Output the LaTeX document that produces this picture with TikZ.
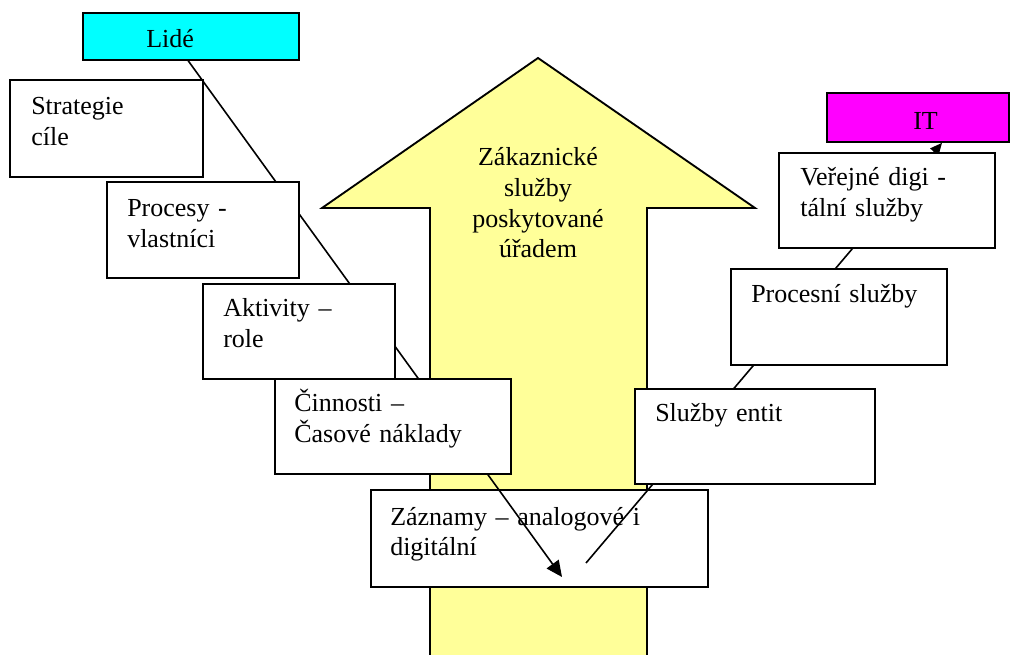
\documentclass[tikz,border=0pt]{standalone}
\usepackage{fontspec}
\setmainfont{Liberation Serif}
\usetikzlibrary{arrows.meta}
\definecolor{arrowyellow}{RGB}{255,255,153}
\definecolor{peoplecyan}{RGB}{0,255,255}
\definecolor{itmagenta}{RGB}{255,0,255}

\begin{document}
\begin{tikzpicture}[x=0.75pt,y=-0.75pt,
  wh/.style 2 args={minimum width=#1*0.75pt, minimum height=#2*0.75pt},
  box/.style={draw=black, line width=1.4pt, fill=white, anchor=north west, inner sep=0pt},
  txt/.style={anchor=base west, inner sep=0pt, text width=#1, align=left,
    font=\fontsize{19.5pt}{23pt}\selectfont},
  txt/.default=190pt,
  conn/.style={draw=black, line width=1.2pt},
  bigarrow/.style={fill=arrowyellow, draw=black, line width=1.4pt, line join=miter}
]
\useasboundingbox (0,0) rectangle (1010,655);

% central upward arrow
\path[bigarrow] (430,665) -- (430,208) -- (322,208) -- (538,58) -- (755,208)
  -- (647,208) -- (647,665);
\node[anchor=base, inner sep=0pt, text width=150pt, align=center,
  font=\fontsize{19.5pt}{23pt}\selectfont] (customer) at (538,166)
  {Zákaznické\\služby\\poskytované\\úřadem};

% bottom box, below the connectors
\node[box, wh={337}{97}] (zazn) at (370,489) {};
\node[txt=260pt] (zaznT) at ([shift={(20,36)}]zazn.north west) {Záznamy – analogové i\\digitální};

% connectors
\coordinate (lidetip) at (562,577);
\coordinate (itfoot) at (586,563);

\node[box, wh={216}{47}, fill=peoplecyan] (lide) at (82,12) {};
\node[box, wh={182}{49}, fill=itmagenta] (it) at (826,92) {};

\draw[conn, -{Triangle[length=12pt,width=11pt]}] ([xshift=-2pt]lide.south) -- (lidetip);
\draw[conn, -{Triangle[length=9pt,width=8pt]}] (itfoot) -- ([xshift=87pt]it.south west);

% left column: people side
\node[box, wh={193}{97}] (strat) at (9,79) {};
\node[txt] (stratT) at ([shift={(22,36)}]strat.north west) {Strategie\\cíle};

\node[box, wh={192}{96}] (proc) at (106,181) {};
\node[txt] (procT) at ([shift={(21,36)}]proc.north west) {Procesy -\\vlastníci};

\node[box, wh={192}{95}] (akt) at (202,283) {};
\node[txt] (aktT) at ([shift={(21,34)}]akt.north west) {Aktivity –\\role};

\node[box, wh={236}{95}] (cinn) at (274,378) {};
\node[txt] (cinnT) at ([shift={(20,34)}]cinn.north west) {Činnosti –\\Časové náklady};

% right column: IT side
\node[box, wh={216}{95}] (verej) at (778,152) {};
\node[txt] (verejT) at ([shift={(22,34)}]verej.north west) {Veřejné digi -\\tální služby};

\node[box, wh={216}{96}] (procs) at (730,268) {};
\node[txt] (procsT) at ([shift={(21,35)}]procs.north west) {Procesní služby};

\node[box, wh={240}{95}] (entit) at (634,388) {};
\node[txt] (entitT) at ([shift={(21,34)}]entit.north west) {Služby entit};

% header labels
\node[anchor=base west, inner sep=0pt, font=\fontsize{19.5pt}{23pt}\selectfont] (lideT) at (146,48) {Lidé};
\node[anchor=base west, inner sep=0pt, font=\fontsize{19.5pt}{23pt}\selectfont] (itT) at (913,130) {IT};
\end{tikzpicture}
\end{document}
